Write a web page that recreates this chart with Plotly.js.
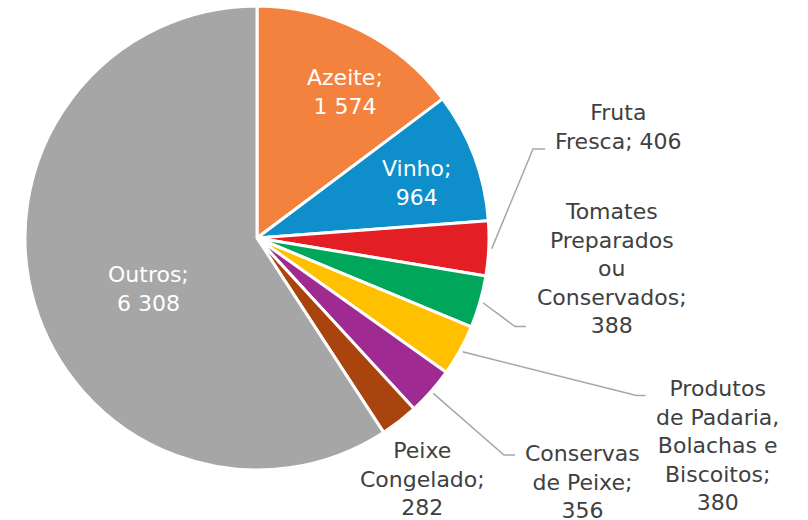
<!DOCTYPE html>
<html>
<head>
<meta charset="utf-8">
<script src="https://cdn.plot.ly/plotly-3.0.1.min.js"></script>
<style>html,body{margin:0;padding:0;background:#fff;}#chart{width:808px;height:520px;}</style>
</head>
<body>
<div id="chart"></div>
<script>
// ---- data ----
const categories = ["Azeite", "Vinho", "Fruta Fresca", "Tomates Preparados ou Conservados",
  "Produtos de Padaria, Bolachas e Biscoitos", "Conservas de Peixe", "Peixe Congelado", "Outros"];
const values = [1574, 964, 406, 388, 380, 356, 282, 6308];
const labelNames = ["Azeite;<br>", "Vinho;<br>", "Fruta<br>Fresca; ", "Tomates<br>Preparados<br>ou<br>Conservados;<br>",
  "Produtos<br>de Padaria,<br>Bolachas e<br>Biscoitos;<br>", "Conservas<br>de Peixe;<br>", "Peixe<br>Congelado;<br>", "Outros;<br>"];
const colors = ["#F4823F", "#0E8FCB", "#E31E25", "#00A65A", "#FFC000", "#9E2A92", "#AA440E", "#A6A6A6"];

// ---- layout / style (pixel positions of label text and leader elbows) ----
const W = 808, H = 520;
const cx = 257, cy = 238, R = 232;
const labelPos = [
  {x: 345, y: 91.5, inside: true},
  {x: 416.5, y: 182.5, inside: true},
  {x: 618, y: 127, elbow: [533, 149], end: [545, 149]},
  {x: 612, y: 268.5, elbow: [515, 326.5], end: [526, 326.5]},
  {x: 717, y: 445, elbow: [636.5, 395.5], end: [645.5, 395.5]},
  {x: 582, y: 481.5, elbow: [504, 455], end: [515, 455]},
  {x: 422, y: 479},
  {x: 148, y: 288.5, inside: true}
];

function fmt(v) { return String(v).replace(/\B(?=(\d{3})+(?!\d))/g, " "); }

const total = values.reduce((a, b) => a + b, 0);
const px = x => x / W, py = y => 1 - y / H;

const annotations = [];
const shapes = [];
let cum = 0;
values.forEach((v, i) => {
  const mid = (cum + v / 2) / total * 2 * Math.PI;
  cum += v;
  const p = labelPos[i];
  annotations.push({
    xref: "paper", yref: "paper", x: px(p.x), y: py(p.y),
    xanchor: "center", yanchor: "middle", align: "center", showarrow: false,
    text: labelNames[i] + fmt(v),
    font: {family: "DejaVu Sans, sans-serif", size: 22, color: p.inside ? "#ffffff" : "#404040"}
  });
  if (p.elbow) {
    const sx = cx + (R + 3) * Math.sin(mid), sy = cy - (R + 3) * Math.cos(mid);
    shapes.push({
      type: "path", xref: "paper", yref: "paper",
      path: `M ${px(sx)} ${py(sy)} L ${px(p.elbow[0])} ${py(p.elbow[1])} L ${px(p.end[0])} ${py(p.end[1])}`,
      line: {color: "#A6A6A6", width: 1.5}
    });
  }
});

const trace = {
  type: "pie",
  labels: categories,
  values: values,
  sort: false,
  direction: "clockwise",
  rotation: 0,
  textinfo: "none",
  hoverinfo: "label+value",
  marker: {colors: colors, line: {color: "#ffffff", width: 3}},
  domain: {x: [(cx - R) / W, (cx + R) / W], y: [1 - (cy + R) / H, 1 - (cy - R) / H]}
};

Plotly.newPlot("chart", [trace], {
  width: W, height: H,
  margin: {l: 0, r: 0, t: 0, b: 0},
  showlegend: false,
  paper_bgcolor: "#ffffff",
  annotations: annotations,
  shapes: shapes
}, {displayModeBar: false, staticPlot: true});
</script>
</body>
</html>
